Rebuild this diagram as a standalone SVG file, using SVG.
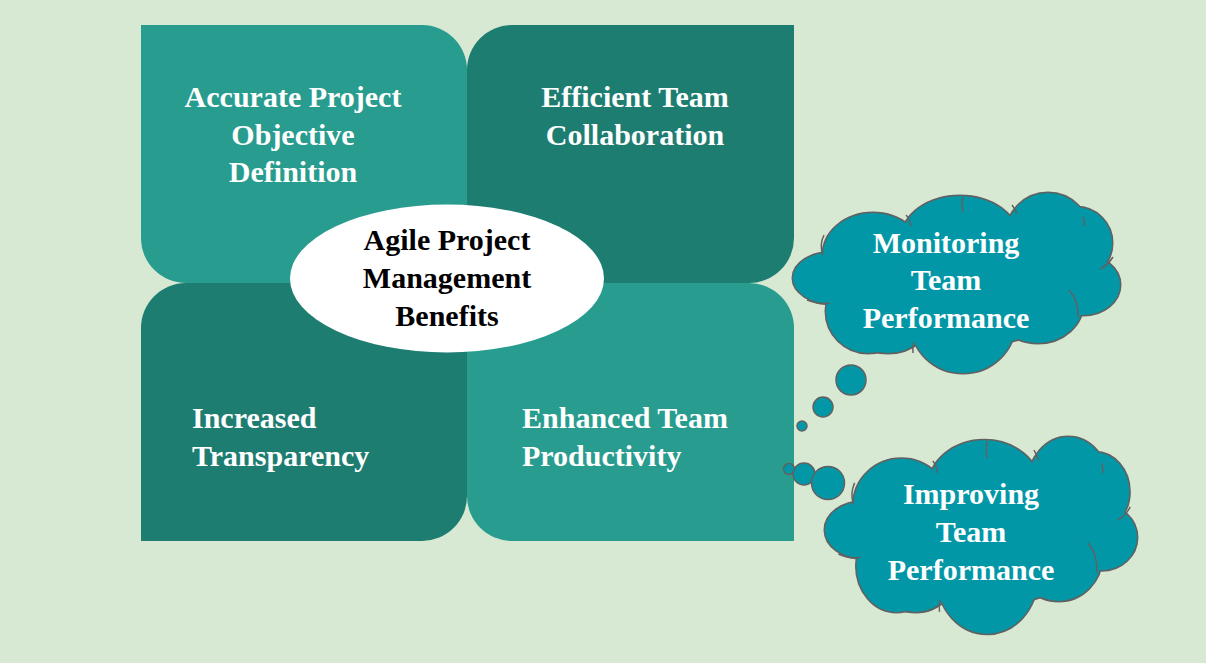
<svg xmlns="http://www.w3.org/2000/svg" xmlns:xlink="http://www.w3.org/1999/xlink" width="1206" height="663" viewBox="0 0 1206 663">
<style>
.t{font-family:"Liberation Serif","Times New Roman",serif;font-weight:bold;font-size:30px;fill:#ffffff}
.tc{text-anchor:middle}
.dk{fill:#000000}
.light{fill:#289c8e}
.dark{fill:#1e7d71}
.bub{fill:#0297a7;stroke:#616161;stroke-width:1.5}
.inner{fill:none;stroke:#616161;stroke-width:1.5}
</style>
<defs>
<g id="cloudShape">
<ellipse cx="40" cy="85" rx="40" ry="26" vector-effect="non-scaling-stroke"/>
<ellipse cx="80" cy="62" rx="50" ry="42" vector-effect="non-scaling-stroke"/>
<ellipse cx="167" cy="45" rx="58" ry="42" vector-effect="non-scaling-stroke"/>
<ellipse cx="255" cy="42" rx="42" ry="42" vector-effect="non-scaling-stroke"/>
<ellipse cx="283" cy="50" rx="36" ry="36" vector-effect="non-scaling-stroke"/>
<ellipse cx="290" cy="92" rx="37" ry="30" vector-effect="non-scaling-stroke"/>
<ellipse cx="245" cy="110" rx="45" ry="40" vector-effect="non-scaling-stroke"/>
<ellipse cx="170" cy="130" rx="52" ry="50" vector-effect="non-scaling-stroke"/>
<ellipse cx="95" cy="120" rx="45" ry="40" vector-effect="non-scaling-stroke"/>
<ellipse cx="75" cy="118" rx="42" ry="42" vector-effect="non-scaling-stroke"/>
<ellipse cx="165" cy="90" rx="120" ry="65" vector-effect="non-scaling-stroke"/>
</g>
<g id="cloudInner" class="inner">
<path d="M30,62 Q26,52 31,42" vector-effect="non-scaling-stroke"/>
<path d="M113,22 Q117,26 118,33" vector-effect="non-scaling-stroke"/>
<path d="M170,4 Q168,12 170,19" vector-effect="non-scaling-stroke"/>
<path d="M219,12 Q222,16 224,21" vector-effect="non-scaling-stroke"/>
<path d="M290,24 Q292,28 291,33" vector-effect="non-scaling-stroke"/>
<path d="M320,64 Q315,72 307,76" vector-effect="non-scaling-stroke"/>
<path d="M276,97 Q286,108 285,124" vector-effect="non-scaling-stroke"/>
<path d="M120,160 Q119,154 121,149" vector-effect="non-scaling-stroke"/>
<path d="M14,107 Q27,112 37,110" vector-effect="non-scaling-stroke"/>
</g>
</defs>
<rect x="0" y="0" width="1206" height="663" fill="#d8e9d3"/>

<g id="node-accurate">
<path class="light" d="M141,25 H422 A45,45 0 0 1 467,70 V283 H186 A45,45 0 0 1 141,238 Z"/>
<text class="t tc" x="293" y="107">Accurate Project</text>
<text class="t tc" x="293" y="145">Objective</text>
<text class="t tc" x="293" y="182">Definition</text>
</g>
<g id="node-efficient">
<path class="dark" d="M512,25 H794 V238 A45,45 0 0 1 749,283 H467 V70 A45,45 0 0 1 512,25 Z"/>
<text class="t tc" x="635" y="107">Efficient Team</text>
<text class="t tc" x="635" y="145">Collaboration</text>
</g>
<g id="node-transparency">
<path class="dark" d="M186,283 H467 V496 A45,45 0 0 1 422,541 H141 V328 A45,45 0 0 1 186,283 Z"/>
<text class="t" x="192" y="428">Increased</text>
<text class="t" x="192" y="466">Transparency</text>
</g>
<g id="node-productivity">
<path class="light" d="M467,283 H749 A45,45 0 0 1 794,328 V541 H512 A45,45 0 0 1 467,496 Z"/>
<text class="t" x="522" y="428">Enhanced Team</text>
<text class="t" x="522" y="466">Productivity</text>
</g>
<g id="node-center">
<ellipse cx="447" cy="278.5" rx="157" ry="74" fill="#ffffff"/>
<text class="t tc dk" x="447" y="250">Agile Project</text>
<text class="t tc dk" x="447" y="288">Management</text>
<text class="t tc dk" x="447" y="326">Benefits</text>
</g>

<g id="connectors">
<circle class="bub" cx="851" cy="380" r="15"/>
<circle class="bub" cx="823" cy="407" r="10"/>
<circle class="bub" cx="802" cy="426" r="5"/>
<circle class="bub" cx="789" cy="469" r="5.5"/>
<circle class="bub" cx="804" cy="474" r="11"/>
<circle class="bub" cx="828" cy="483" r="16.5"/>
</g>

<g id="node-monitoring">
<g transform="translate(793,193)">
<use xlink:href="#cloudShape" fill="#0297a7" stroke="#616161" stroke-width="3"/>
<use xlink:href="#cloudShape" fill="#0297a7"/>
<use xlink:href="#cloudInner"/>
</g>
<text class="t tc" x="946" y="253">Monitoring</text>
<text class="t tc" x="946" y="290">Team</text>
<text class="t tc" x="946" y="328">Performance</text>
</g>
<g id="node-improving">
<g transform="translate(825,437) scale(0.954,1.093)">
<use xlink:href="#cloudShape" fill="#0297a7" stroke="#616161" stroke-width="3"/>
<use xlink:href="#cloudShape" fill="#0297a7"/>
<use xlink:href="#cloudInner"/>
</g>
<text class="t tc" x="971" y="504">Improving</text>
<text class="t tc" x="971" y="542">Team</text>
<text class="t tc" x="971" y="580">Performance</text>
</g>
</svg>
